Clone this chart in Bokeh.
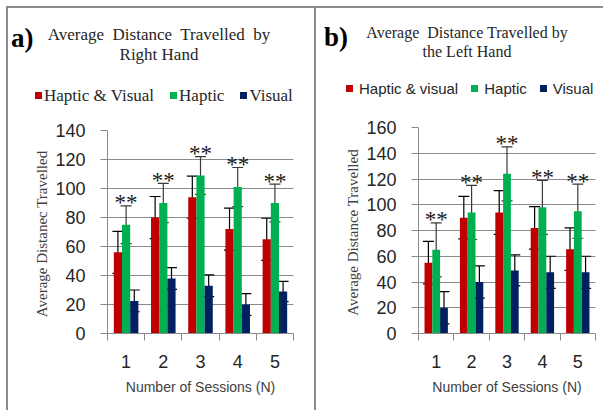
from bokeh.plotting import figure
from bokeh.models import (ColumnDataSource, Range1d, FixedTicker, Whisker, TeeHead, Div)
from bokeh.layouts import row, column
from bokeh.embed import file_html
from bokeh.resources import INLINE
from bokeh.core.properties import value

# ---------------- data ----------------
sessions = [1, 2, 3, 4, 5]
series_names_right = ["Haptic & Visual", "Haptic", "Visual"]
series_names_left = ["Haptic & visual", "Haptic", "Visual"]

# a) right hand
right_hv = [56, 80, 94, 72, 65]
right_hv_err = [14.5, 14.5, 14.5, 14.5, 14.5]
right_h = [75, 90, 109, 101, 90]
right_h_err = [13, 13.5, 13, 13.5, 13]
right_v = [22.5, 38, 33, 20, 29]
right_v_err = [7.5, 7.5, 7.5, 7.5, 7]

# b) left hand
left_hv = [55, 90, 94, 82, 65.5]
left_hv_err = [16.5, 16.5, 17, 16.5, 16.5]
left_h = [65, 94, 124, 98, 95]
left_h_err = [21, 21, 21, 21, 21]
left_v = [20, 40, 49, 47.5, 47.5]
left_v_err = [12.5, 12.5, 12, 12.5, 12.5]

right_ticks = [0, 20, 40, 60, 80, 100, 120, 140]
left_ticks = [0, 20, 40, 60, 80, 100, 120, 140, 160]
stars = ["**"] * 5

COLORS = ["#C00000", "#00B050", "#002060"]
GRID = "#8a8a8a"
BORDER = "2px solid #8c8c8c"
HEADER_H = 100


def header(width, names, title_lines, letter, title_size, title_center, title_tops,
           letter_left, letter_top, legend_font, legend_size, legend_left, legend_top,
           legend_gap, key_gap):
    items = ""
    for n, c in zip(names, COLORS):
        items += (f'<span style="display:inline-flex;align-items:center;margin-right:{legend_gap}px;">'
                  f'<span style="display:inline-block;width:7px;height:7px;background:{c};'
                  f'margin-right:{key_gap}px;"></span>'
                  f'<span style="line-height:1;">{n.replace("&", "&amp;")}</span></span>')
    t1, t2 = title_tops
    html = (
        f'<div style="position:relative;width:{width}px;height:{HEADER_H}px;margin:0;padding:0;'
        f'overflow:hidden;color:#262626;">'
        f'<div style="position:absolute;left:{letter_left}px;top:{letter_top}px;'
        f'font-family:\'Liberation Serif\';font-weight:bold;font-size:27px;line-height:1;'
        f'color:black;white-space:nowrap;">{letter}</div>'
        f'<div style="position:absolute;left:0;width:{2 * title_center}px;top:{t1}px;'
        f'text-align:center;font-family:\'Liberation Serif\';font-size:{title_size}px;'
        f'line-height:1;white-space:pre;">{title_lines[0]}</div>'
        f'<div style="position:absolute;left:0;width:{2 * title_center}px;top:{t2}px;'
        f'text-align:center;font-family:\'Liberation Serif\';font-size:{title_size}px;'
        f'line-height:1;white-space:pre;">{title_lines[1]}</div>'
        f'<div style="position:absolute;left:{legend_left}px;top:{legend_top}px;'
        f'display:flex;align-items:center;white-space:nowrap;'
        f'font-family:\'{legend_font}\';font-size:{legend_size}px;line-height:1;">{items}</div>'
        f'</div>')
    return Div(text=html, width=width, height=HEADER_H, margin=0)


def chart(width, height, ymax, yticks, series, errs, ylabel, borders):
    bl, br, bt, bb = borders
    p = figure(width=width, height=height, output_backend="svg", toolbar_location=None,
               x_range=Range1d(0.5, 5.5), y_range=Range1d(0, ymax),
               min_border_left=bl, min_border_right=br,
               min_border_top=bt, min_border_bottom=bb)
    p.outline_line_color = None
    p.xgrid.grid_line_color = None
    p.ygrid.grid_line_color = GRID
    p.ygrid.grid_line_width = 1

    bounds = [s - 0.5 for s in sessions] + [sessions[-1] + 0.5]
    p.xaxis.ticker = FixedTicker(ticks=sessions, minor_ticks=bounds)
    p.xaxis.major_tick_line_color = None
    p.xaxis.major_tick_out = 0
    p.xaxis.major_tick_in = 0
    p.xaxis.minor_tick_in = 0
    p.xaxis.minor_tick_out = 7
    p.xaxis.minor_tick_line_color = GRID
    p.xaxis.axis_line_color = GRID
    p.xaxis.major_label_standoff = 14
    p.xaxis.major_label_text_font = "Liberation Sans"
    p.xaxis.major_label_text_font_size = "18px"
    p.xaxis.major_label_text_color = "#262626"
    p.xaxis.axis_label = "Number of Sessions (N)"
    p.xaxis.axis_label_text_font = "Liberation Sans"
    p.xaxis.axis_label_text_font_size = "14px"
    p.xaxis.axis_label_text_font_style = "normal"
    p.xaxis.axis_label_text_color = "#404040"
    p.xaxis.axis_label_standoff = 8

    p.yaxis.ticker = FixedTicker(ticks=yticks, minor_ticks=[])
    p.yaxis.major_tick_in = 0
    p.yaxis.major_tick_out = 7
    p.yaxis.major_tick_line_color = GRID
    p.yaxis.axis_line_color = GRID
    p.yaxis.major_label_standoff = 15
    p.yaxis.major_label_text_font = "Liberation Sans"
    p.yaxis.major_label_text_font_size = "18px"
    p.yaxis.major_label_text_color = "#262626"
    p.yaxis.axis_label = ylabel
    p.yaxis.axis_label_text_font = "Liberation Serif"
    p.yaxis.axis_label_text_font_size = "15px"
    p.yaxis.axis_label_text_font_style = "normal"
    p.yaxis.axis_label_text_color = "#404040"
    p.yaxis.axis_label_standoff = 2

    offsets = [-0.22, 0.0, 0.22]
    for vals, er, off, col in zip(series, errs, offsets, COLORS):
        src = ColumnDataSource(dict(
            x=[s + off for s in sessions], top=vals,
            upper=[v + e for v, e in zip(vals, er)],
            lower=[v - e for v, e in zip(vals, er)]))
        p.vbar(x="x", top="top", width=0.22, source=src,
               fill_color=col, line_color=None)
        wcol = "#3a3a3a" if col == COLORS[1] else "black"
        p.add_layout(Whisker(source=src, base="x", upper="upper", lower="lower",
                             line_color=wcol, line_width=1.2,
                             upper_head=TeeHead(size=11, line_color=wcol, line_width=1.2),
                             lower_head=TeeHead(size=11, line_color=wcol, line_width=1.2)))

    star_src = ColumnDataSource(dict(
        x=sessions, y=[v + e for v, e in zip(series[1], errs[1])], t=stars))
    p.text(x="x", y="y", text="t", source=star_src, text_align="center",
           text_baseline="alphabetic", y_offset=-3,
           text_font=value("Liberation Serif"), text_font_size="23px",
           text_color="#1a1a1a")
    return p


ha = header(306, series_names_right, ["Average  Distance  Travelled  by", "Right Hand"], "a)",
            17, 151, (18, 38), 3, 17, "Liberation Serif", 17, 27, 79, 16, 2)
ca = chart(306, 302, 140, right_ticks,
           [right_hv, right_h, right_v], [right_hv_err, right_h_err, right_v_err],
           "Average  Distanec Travelled", (99, 21, 22, 77))

hb = header(287, series_names_left, ["Average  Distance Travelled by", "the Left Hand"], "b)",
            16, 151, (17, 36), 8, 16, "Liberation Sans", 15, 30, 73, 13, 6)
cb = chart(287, 302, 160, left_ticks,
           [left_hv, left_h, left_v], [left_hv_err, left_h_err, left_v_err],
           "Average  Distance Travelled", (102, 8, 19, 77))

col_a = column(ha, ca, spacing=0)
col_b = column(hb, cb, spacing=0)
col_a.styles = {"border-top": BORDER, "border-left": BORDER}
col_b.styles = {"border-top": BORDER, "border-left": BORDER}
layout = row(col_a, col_b, spacing=0, margin=(6, 0, 0, 6))
open("out.html", "w").write(file_html(layout, INLINE))
